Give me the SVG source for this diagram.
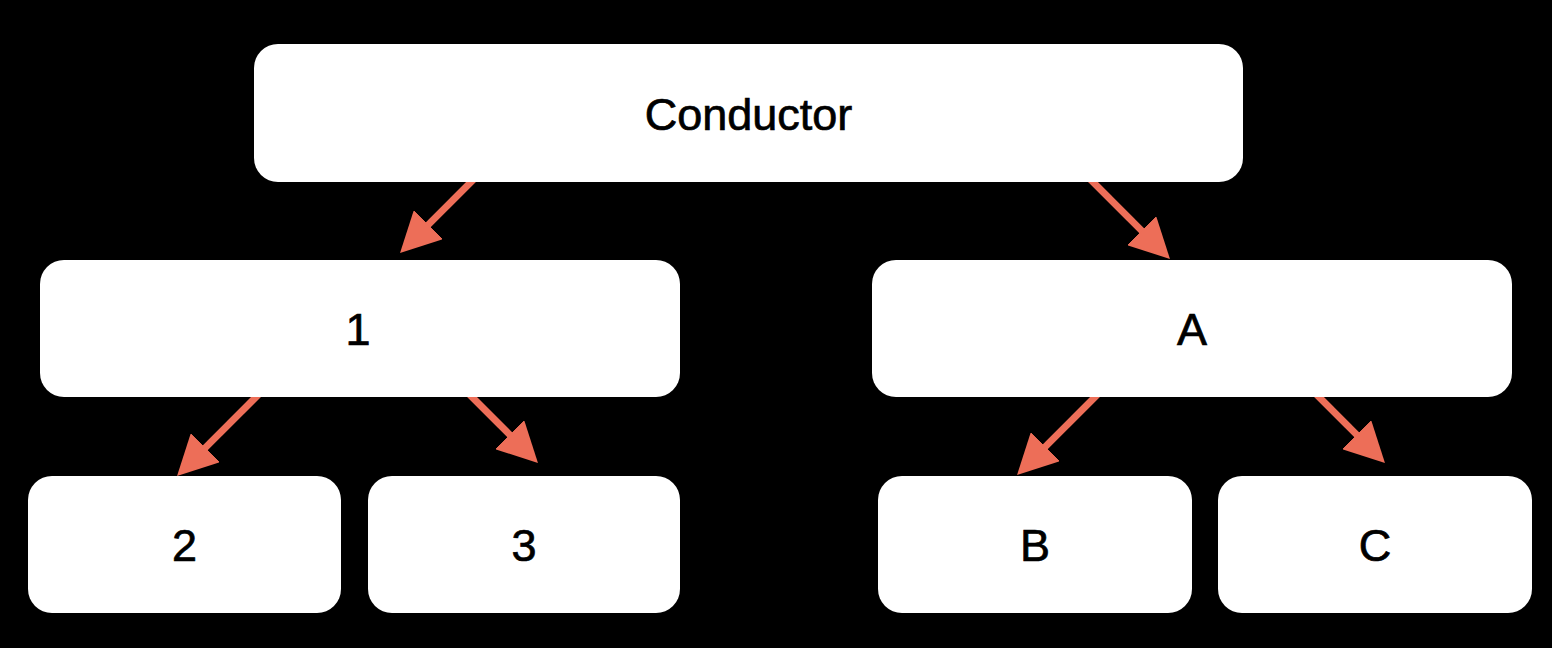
<svg xmlns="http://www.w3.org/2000/svg" width="1552" height="648" viewBox="0 0 1552 648">
<defs>
<style>
.box{fill:#ffffff;}
.lbl{font-family:"Liberation Sans",Arial,sans-serif;font-size:45px;fill:#000000;stroke:#000000;stroke-width:0.7px;text-anchor:middle;}
.conn{stroke:#ED6E58;stroke-width:7;fill:none;}
</style>
<marker id="head" markerUnits="userSpaceOnUse" markerWidth="40" markerHeight="41" refX="2" refY="20.5" orient="auto" viewBox="0 0 40 41">
<path d="M0,0 L40,20.5 L0,41 Z" fill="#ED6E58"/>
</marker>
</defs>
<rect x="0" y="0" width="1552" height="648" fill="#000000"/>
<g id="connectors">
<line class="conn" x1="478" y1="175" x2="426.9" y2="226.1" marker-end="url(#head)"/>
<line class="conn" x1="1086" y1="175" x2="1143.1" y2="232.1" marker-end="url(#head)"/>
<line class="conn" x1="263" y1="390" x2="203.9" y2="449.1" marker-end="url(#head)"/>
<line class="conn" x1="465" y1="390" x2="511.1" y2="436.1" marker-end="url(#head)"/>
<line class="conn" x1="1102" y1="390" x2="1043.9" y2="448.1" marker-end="url(#head)"/>
<line class="conn" x1="1312" y1="390" x2="1358.1" y2="436.1" marker-end="url(#head)"/>
</g>
<g id="node-conductor">
<rect class="box" x="254" y="44" width="989" height="138" rx="24"/>
<text class="lbl" x="748.5" y="130">Conductor</text>
</g>
<g id="node-1">
<rect class="box" x="40" y="260" width="640" height="137" rx="24"/>
<text class="lbl" x="358" y="345">1</text>
</g>
<g id="node-A">
<rect class="box" x="872" y="260" width="640" height="137" rx="24"/>
<text class="lbl" x="1192" y="345">A</text>
</g>
<g id="node-2">
<rect class="box" x="28" y="476" width="313" height="137" rx="24"/>
<text class="lbl" x="184.5" y="561">2</text>
</g>
<g id="node-3">
<rect class="box" x="368" y="476" width="312" height="137" rx="24"/>
<text class="lbl" x="524" y="561">3</text>
</g>
<g id="node-B">
<rect class="box" x="878" y="476" width="314" height="137" rx="24"/>
<text class="lbl" x="1035" y="561">B</text>
</g>
<g id="node-C">
<rect class="box" x="1218" y="476" width="314" height="137" rx="24"/>
<text class="lbl" x="1375" y="561">C</text>
</g>
</svg>
